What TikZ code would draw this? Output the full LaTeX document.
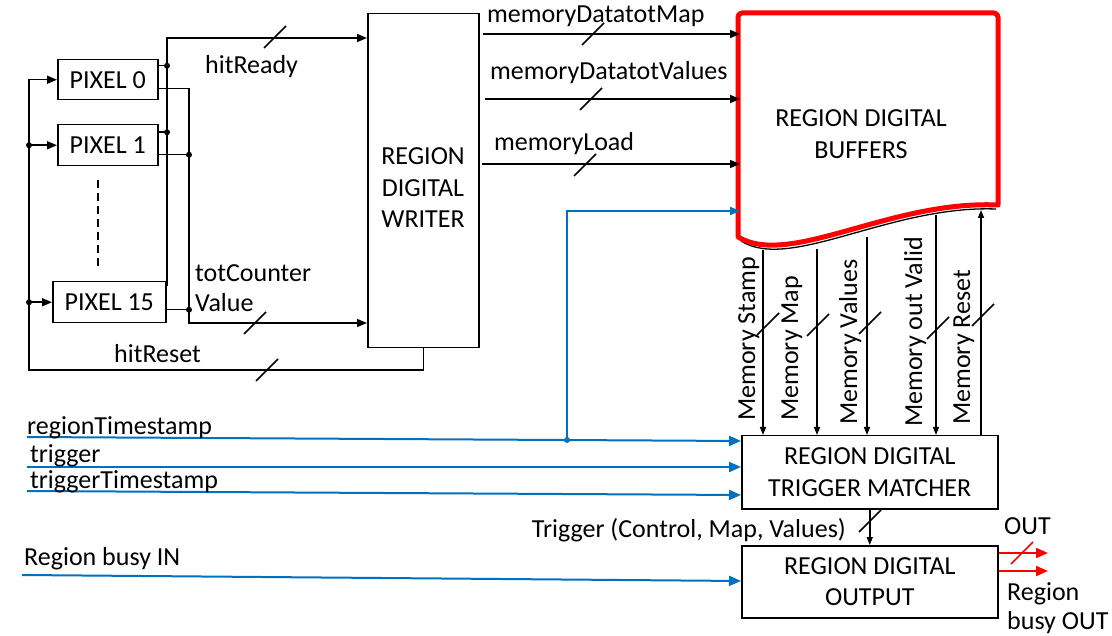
\documentclass[tikz,border=0pt]{standalone}
\usepackage{fontspec}
\setmainfont{Carlito}
\usetikzlibrary{arrows.meta,calc}
\definecolor{myblue}{RGB}{0,112,192}
\tikzset{bmark/.pic={\draw[line width=1.5pt] (-11,11) -- (11,-11);}}
\begin{document}
\begin{tikzpicture}[x=1pt,y=-1pt,
  every node/.style={font=\fontsize{26}{31.5}\selectfont, inner sep=0pt},
  box/.style={draw, line width=1.5pt, anchor=north west, align=center},
  ln/.style={line width=1.5pt},
  arr/.style={ln, -{Triangle[length=10pt,width=8pt]}},
  sarr/.style={ln, -{Triangle[length=8pt,width=6pt]}},
  barr/.style={line width=2pt, draw=myblue, -{Triangle[length=12pt,width=10pt]}},
  rarr/.style={line width=2pt, draw=red, -{Triangle[length=12pt,width=10pt]}},
  lbl/.style={anchor=base west},
  rlbl/.style={rotate=90, anchor=base west}]
\useasboundingbox (0,0) rectangle (1112,636);
\fill[white] (0,0) rectangle (1112,636);

% pixel boxes
\node[box, minimum width=100pt, minimum height=40pt] (pix0) at (57,59) {PIXEL 0};
\node[box, minimum width=100pt, minimum height=41pt] (pix1) at (57,124) {PIXEL 1};
\node[box, minimum width=113pt, minimum height=41pt] (pix15) at (52,281) {PIXEL 15};
\draw[ln, dash pattern=on 8pt off 5pt] (98,180) -- (98,267);

% writer
\node[box, minimum width=111pt, minimum height=334pt] (wr) at (367,13) {};
\node[align=center] (wrtxt) at (423,188) {REGION\\DIGITAL\\WRITER};

% buffer
\draw[black, line width=1.3pt] (741,241) .. controls (790,272) and (890,205) .. (996,209);
\draw[red, line width=5pt, line join=round, fill=white] (738,237) [rounded corners=4pt] -- (738,13) -- (998,13) [sharp corners] -- (998,205) .. controls (890,200) and (790,268) .. (738,237) -- cycle;
\node[align=center] (buf) at (861,134) {REGION DIGITAL\\BUFFERS};
\coordinate (bufL) at (740,0);

% matcher and output
\node[box, minimum width=256pt, minimum height=73pt] (mat) at (741,435) {REGION DIGITAL\\TRIGGER MATCHER};
\node[box, minimum width=256pt, minimum height=72pt] (out) at (741,545) {REGION DIGITAL\\OUTPUT};

% hitReset
\coordinate (rstL) at (29,370);
\draw[arr] (wr.south) |- (rstL) |- (pix0.west);
\draw[arr] (rstL |- pix1.west) -- (pix1.west);
\fill (rstL |- pix1.west) circle (3pt);
\draw[arr] (rstL |- pix15.west) -- (pix15.west);
\fill (rstL |- pix15.west) circle (3pt);
\pic at (267,370) {bmark};

% hitReady bus
\coordinate (p0r) at ([yshift=14pt]pix0.east);
\coordinate (p1r) at ([yshift=13pt]pix1.east);
\coordinate (p15r) at ([yshift=16.5pt]pix15.east);
\coordinate (rdyT) at (167,38);
\draw[arr] (p15r -| rdyT) -- (rdyT) -- (wr.west |- rdyT);
\draw[ln] (p15r) -- (p15r -| rdyT);
\draw[ln] (p0r) -- (p0r -| rdyT);
\fill (p0r -| rdyT) circle (3pt);
\draw[ln] (p1r) -- (p1r -| rdyT);
\fill (p1r -| rdyT) circle (3pt);
\pic at (275,37) {bmark};

% totCounterValue bus
\coordinate (p0t) at ([yshift=-9pt]pix0.east);
\coordinate (p1t) at ([yshift=-9.5pt]pix1.east);
\coordinate (p15t) at ([yshift=-7.5pt]pix15.east);
\coordinate (totX) at (189,323);
\draw[arr] (p0t) -| (totX) -- (wr.west |- totX);
\draw[ln] (p1t) -- (p1t -| totX);
\fill (p1t -| totX) circle (3pt);
\draw[ln] (p15t) -- (p15t -| totX);
\fill (p15t -| totX) circle (3pt);
\pic at (255,323) {bmark};

% writer outputs
\coordinate (yMap) at (0,34);
\coordinate (yVal) at (0,99);
\coordinate (yLd) at (0,164);
\draw[arr, shorten <=3pt] (wr.east |- yMap) -- (bufL |- yMap);
\draw[arr, shorten <=5pt] (wr.east |- yVal) -- (bufL |- yVal);
\draw[arr, shorten <=2pt] (wr.east |- yLd) -- (bufL |- yLd);
\pic at (593,34) {bmark};
\pic at (591,99) {bmark};
\pic at (585,165) {bmark};

% memory vertical connectors
\coordinate (ms) at (763,250);
\coordinate (mm) at (817,249);
\coordinate (mv) at (867,237);
\coordinate (mo) at (936,215);
\coordinate (mr) at (981,210);
\draw[sarr] (ms) -- (ms |- mat.north);
\draw[sarr] (mm) -- (mm |- mat.north);
\draw[sarr] (mv) -- (mv |- mat.north);
\draw[sarr] (mo) -- (mo |- mat.north);
\draw[sarr] (mr |- mat.north) -- (mr);
\pic at (768,324) {bmark};
\pic at (818,325) {bmark};
\pic at (870,323) {bmark};
\pic at (938,328) {bmark};
\pic at (983,315) {bmark};
\node[rlbl] (lms) at (755,421) {Memory Stamp};
\node[rlbl] (lmm) at (798,421) {Memory Map};
\node[rlbl] (lmv) at (857,425) {Memory Values};
\node[rlbl] (lmo) at (922,427) {Memory out Valid};
\node[rlbl] (lmr) at (970,425) {Memory Reset};

% trigger to output
\draw[sarr] (mat.south) -- (out.north);
\pic at (870,521) {bmark};
\node[anchor=base east] (ltrig) at (846,537) {Trigger (Control, Map, Values)};

% blue inputs
\coordinate (rtsS) at (27,437);
\coordinate (yRts) at (0,441);
\coordinate (trgS) at (27,467);
\coordinate (ttsS) at (27,491);
\coordinate (yTts) at (0,495);
\coordinate (busyS) at (22,575);
\coordinate (yBusy) at (0,581);
\draw[barr] (rtsS) -- (mat.west |- yRts);
\draw[barr] (trgS) -- (mat.west |- trgS);
\draw[barr] (ttsS) -- (mat.west |- yTts);
\draw[barr] (busyS) -- (out.west |- yBusy);
\coordinate (brJ) at (567,440);
\coordinate (brT) at (567,211);
\draw[barr, -{Triangle[length=10pt,width=8pt]}] (brJ) -- (brT) -- (bufL |- brT);
\fill[myblue] (brJ) circle (3pt);

% red outputs
\coordinate (outE) at (1048,553);
\coordinate (busyE) at (1048,571);
\draw[rarr] (out.east |- outE) -- (outE);
\draw[rarr] (out.east |- busyE) -- (busyE);
\pic[red] at (1022,553) {bmark};

% labels
\node[lbl] (lrdy) at (205,74) {hitReady};
\node[lbl] (ltot1) at (195,282) {totCounter};
\node[lbl] (ltot2) at (195,312) {Value};
\node[lbl] (lrst) at (114,363) {hitReset};
\node[lbl] (lmap) at (487,23) {memoryDatatotMap};
\node[lbl] (lval) at (490,80) {memoryDatatotValues};
\node[lbl] (lld) at (494,151) {memoryLoad};
\node[lbl] (lrts) at (27,435) {regionTimestamp};
\node[lbl] (ltrg) at (30,463) {trigger};
\node[lbl] (ltts) at (30,489) {triggerTimestamp};
\node[lbl] (lbusy) at (24,565) {Region busy IN};
\node[lbl] (lout) at (1004,534) {OUT};
\node[lbl] (lbo1) at (1007,600) {Region};
\node[lbl] (lbo2) at (1007,629) {busy OUT};
\end{tikzpicture}
\end{document}
